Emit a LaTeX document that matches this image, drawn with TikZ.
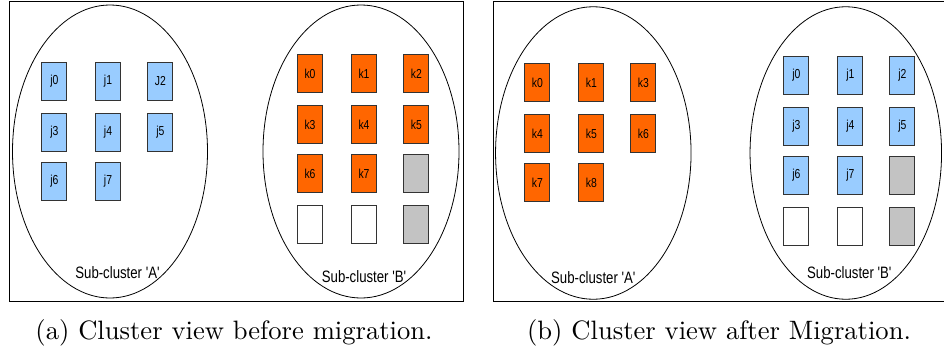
\documentclass[tikz,border=0pt]{standalone}
\usepackage{fontspec}
\newfontfamily\boxfont[FakeStretch=0.8]{Liberation Sans}
\newfontfamily\capfont{lmroman10-regular}[Extension=.otf]
\usetikzlibrary{shapes.geometric}

\definecolor{jblue}{HTML}{99CCFF}
\definecolor{korange}{HTML}{FF6600}
\definecolor{slotgray}{HTML}{C3C3C3}
\definecolor{edgegray}{HTML}{333333}

\tikzset{
  frame/.style={draw=black, line width=1pt},
  cluster/.style={draw=black, line width=0.8pt, ellipse, inner sep=0pt},
  slot/.style={draw=edgegray, line width=1pt, anchor=north west,
    minimum width=25pt, minimum height=38pt, inner sep=0pt,
    font=\boxfont\fontsize{13}{15}\selectfont},
  jslot/.style={slot, fill=jblue},
  kslot/.style={slot, fill=korange},
  freeslot/.style={slot, fill=white},
  grayslot/.style={slot, fill=slotgray},
  clabel/.style={font=\boxfont\fontsize{16.5}{18}\selectfont, inner sep=0pt},
  caption/.style={font=\capfont\fontsize{26.6}{30}\selectfont, inner sep=0pt}
}

\begin{document}
\begin{tikzpicture}[x=1pt, y=-1pt]
\useasboundingbox (0,0) rectangle (944,356);

% ---------- (a) before migration ----------
\node[frame, minimum width=454pt, minimum height=300pt, inner sep=0pt, anchor=north west] (fa) at (8.5,1) {};
\node[cluster, minimum width=195pt, minimum height=293pt] (aA) at (110,151.5) {};
\node[cluster, minimum width=196pt, minimum height=293pt] (aB) at (361,151.5) {};

\node[jslot] (a-j0) at (41.3,61.7) {j0};
\node[jslot] (a-j1) at (95,61.7) {j1};
\node[jslot] (a-j2) at (147.3,61.7) {J2};
\node[jslot] (a-j3) at (41.3,112.7) {j3};
\node[jslot] (a-j4) at (95,112.7) {j4};
\node[jslot] (a-j5) at (147.3,112.7) {j5};
\node[jslot] (a-j6) at (41.3,161.7) {j6};
\node[jslot] (a-j7) at (95,161.7) {j7};

\node[kslot] (a-k0) at (297,54) {k0};
\node[kslot] (a-k1) at (351,54) {k1};
\node[kslot] (a-k2) at (403.3,54) {k2};
\node[kslot] (a-k3) at (297,105) {k3};
\node[kslot] (a-k4) at (351,105) {k4};
\node[kslot] (a-k5) at (403.3,105) {k5};
\node[kslot] (a-k6) at (297,154) {k6};
\node[kslot] (a-k7) at (351,154) {k7};
\node[grayslot] (a-g0) at (403.3,154) {};
\node[freeslot] (a-e0) at (297,205) {};
\node[freeslot] (a-e1) at (351,205) {};
\node[grayslot] (a-g1) at (403.3,205) {};

\node[clabel] (aAl) at (117.5,273) {Sub-cluster 'A'};
\node[clabel] (aBl) at (364,277) {Sub-cluster 'B'};

\node[caption] (capa) at (234,333) {(a) Cluster view before migration.};

% ---------- (b) after migration ----------
\node[frame, minimum width=460pt, minimum height=300pt, inner sep=0pt, anchor=north west] (fb) at (493.3,1) {};
\node[cluster, minimum width=195.5pt, minimum height=292.5pt] (bA) at (593.3,153) {};
\node[cluster, minimum width=191.5pt, minimum height=292.5pt] (bB) at (845.8,153) {};

\node[kslot] (b-k0) at (524.3,63.3) {k0};
\node[kslot] (b-k1) at (578.3,63.3) {k1};
\node[kslot] (b-k3) at (630.3,63.3) {k3};
\node[kslot] (b-k4) at (524.3,114.3) {k4};
\node[kslot] (b-k5) at (578.3,114.3) {k5};
\node[kslot] (b-k6) at (630.3,114.3) {k6};
\node[kslot] (b-k7) at (524.3,163.3) {k7};
\node[kslot] (b-k8) at (578.3,163.3) {k8};

\node[jslot] (b-j0) at (783.3,55.7) {j0};
\node[jslot] (b-j1) at (837.3,55.7) {j1};
\node[jslot] (b-j2) at (889.3,55.7) {j2};
\node[jslot] (b-j3) at (783.3,106.7) {j3};
\node[jslot] (b-j4) at (837.3,106.7) {j4};
\node[jslot] (b-j5) at (889.3,106.7) {j5};
\node[jslot] (b-j6) at (783.3,155.7) {j6};
\node[jslot] (b-j7) at (837.3,155.7) {j7};
\node[grayslot] (b-g0) at (889.3,155.7) {};
\node[freeslot] (b-e0) at (783.3,206.7) {};
\node[freeslot] (b-e1) at (837.3,206.7) {};
\node[grayslot] (b-g1) at (889.3,206.7) {};

\node[clabel] (bAl) at (593.3,277.3) {Sub-cluster 'A'};
\node[clabel] (bBl) at (849.3,273) {Sub-cluster 'B'};

\node[caption] (capb) at (719,333) {(b) Cluster view after Migration.};
\end{tikzpicture}
\end{document}
